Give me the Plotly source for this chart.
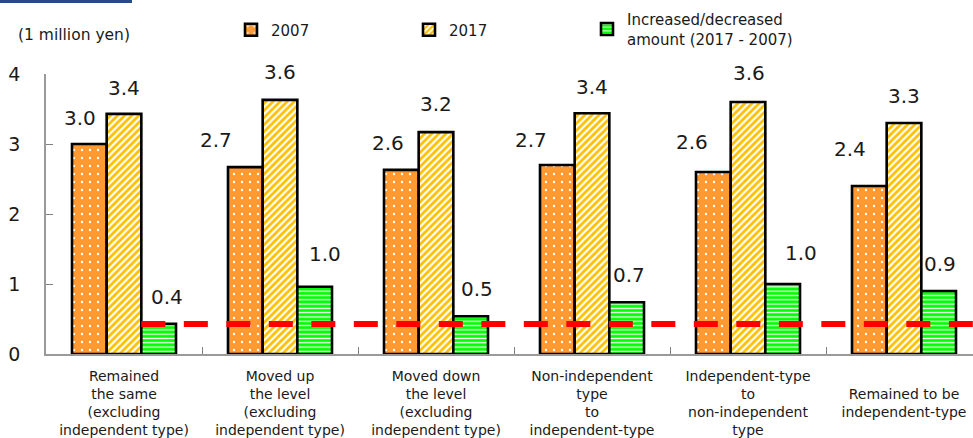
import plotly.graph_objects as go

# ---------------- data ----------------
CATEGORIES = [
    "Remained<br>the same<br>(excluding<br>independent type)",
    "Moved up<br>the level<br>(excluding<br>independent type)",
    "Moved down<br>the level<br>(excluding<br>independent type)",
    "Non-independent<br>type<br>to<br>independent-type",
    "Independent-type<br>to<br>non-independent<br>type",
    "<br>Remained to be<br>independent-type",
]
VALUES_2007 = [3.00, 2.67, 2.63, 2.70, 2.60, 2.40]
VALUES_2017 = [3.43, 3.63, 3.17, 3.44, 3.60, 3.30]
VALUES_DIFF = [0.43, 0.96, 0.54, 0.74, 1.00, 0.90]
SERIES_NAMES = ["2007", "2017", "Increased/decreased<br>amount (2017 - 2007)"]
Y_TICKS = [0, 1, 2, 3, 4]
UNIT_LABEL = "(1 million yen)"
TITLE_FRAGMENT = "category type"

# label nudges (px) relative to each bar top-centre
LABEL_DX = [
    [-9, -29, -13, -26, -21, -19],
    [0, 0, 0, 0, 1, 0],
    [8, 10, 6, 2, 18, 1],
]
LABEL_DY = [
    [26, 27, 27, 25, 30, 37],
    [26, 27.5, 28, 26, 29, 27],
    [27, 33, 27, 27, 31, 27],
]

FONT = "DejaVu Sans"
TXT = "#1a1a1a"

# plot geometry (px)
W, H = 973, 438
ML, MT, MB, MR = 46, 74, 84, 0
CAT_PX = 156.0
plot_w = W - ML - MR
plot_h = H - MT - MB
BARGAP = 1.0 / 3.0
bar_w = (1 - BARGAP) / 3.0

fig = go.Figure()

styles = [
    dict(bg="#FF9933", fg="#FFFFFF", shape=".", size=8, solidity=0.07),
    dict(bg="#FFFFFF", fg="#FFC000", shape="/", size=5, solidity=0.55),
    dict(bg="#00FF00", fg="#FFFFFF", shape="-", size=4.3, solidity=0.3),
]
series = [VALUES_2007, VALUES_2017, VALUES_DIFF]
legends = ["legend", "legend2", "legend3"]

for s, (vals, name, st, lg) in enumerate(zip(series, SERIES_NAMES, styles, legends)):
    fig.add_trace(go.Bar(
        x=CATEGORIES, y=vals, name=name, legend=lg,
        marker=dict(
            color=st["bg"],
            line=dict(color="#000000", width=2.6),
            pattern=dict(shape=st["shape"], fgcolor=st["fg"], bgcolor=st["bg"],
                         size=st["size"], solidity=st["solidity"], fillmode="replace"),
        ),
        hoverinfo="skip",
    ))

# value labels
annotations = []
for s, vals in enumerate(series):
    for i, v in enumerate(vals):
        annotations.append(dict(
            x=i + (s - 1) * bar_w, y=v, xref="x", yref="y",
            text=f"{v:.1f}", showarrow=False,
            xanchor="center", yanchor="middle",
            xshift=LABEL_DX[s][i], yshift=LABEL_DY[s][i],
            font=dict(family=FONT, size=20, color=TXT),
        ))

def px_to_paper_x(px):
    return (px - ML) / plot_w

def px_to_paper_y(py):
    return (H - MB - py) / plot_h

# unit label
annotations.append(dict(
    x=px_to_paper_x(16), y=px_to_paper_y(35), xref="paper", yref="paper",
    text=UNIT_LABEL, showarrow=False, xanchor="left", yanchor="middle",
    font=dict(family=FONT, size=15.5, color=TXT),
))
# cropped title (only its bottom edge is visible)
annotations.append(dict(
    x=px_to_paper_x(226), y=px_to_paper_y(3), xref="paper", yref="paper",
    text=f"<b>{TITLE_FRAGMENT}</b>", showarrow=False, xanchor="left", yanchor="bottom",
    font=dict(family=FONT, size=22, color="#000000"),
))

shapes = [
    # header bar, top-left
    dict(type="rect", xref="paper", yref="paper",
         x0=px_to_paper_x(0), x1=px_to_paper_x(132),
         y0=px_to_paper_y(3), y1=px_to_paper_y(-1),
         fillcolor="#264B84", line=dict(width=0), layer="above"),
    # red dashed reference line at the first group's increase
    dict(type="line", xref="x", yref="y",
         x0=-1 / 3 + 2 * bar_w, x1=6.0, y0=VALUES_DIFF[0], y1=VALUES_DIFF[0],
         line=dict(color="#FF0000", width=6, dash="24px,18.5px"), layer="above"),
]

legend_common = dict(
    orientation="h", xref="container", yref="container",
    xanchor="left", yanchor="middle", bgcolor="rgba(0,0,0,0)",
    font=dict(family=FONT, size=15, color=TXT), itemwidth=30,
)

fig.update_layout(
    width=W, height=H,
    margin=dict(l=ML, r=MR, t=MT, b=MB, pad=0, autoexpand=False),
    paper_bgcolor="#FFFFFF", plot_bgcolor="#FFFFFF",
    barmode="group", bargap=BARGAP, bargroupgap=0,
    showlegend=True,
    legend=dict(legend_common, x=(249 - 18) / W, y=1 - 30 / H),
    legend2=dict(legend_common, x=(427 - 18) / W, y=1 - 30 / H),
    legend3=dict(legend_common, x=(605 - 18) / W, y=1 - 29 / H),
    font=dict(family=FONT, color=TXT),
    xaxis=dict(
        range=[-0.5, -0.5 + plot_w / CAT_PX],
        showgrid=False, zeroline=False,
        showline=True, linecolor="#9a9a9a", linewidth=1.5,
        ticks="inside", tickson="boundaries", ticklen=7, tickcolor="#808080", tickwidth=1,
        tickfont=dict(family=FONT, size=14, color=TXT),
        ticklabelstandoff=8, tickangle=0,
        fixedrange=True,
    ),
    yaxis=dict(
        range=[0, 4], tickvals=Y_TICKS,
        showgrid=False, zeroline=False,
        showline=True, linecolor="#9a9a9a", linewidth=1.5,
        ticks="inside", ticklen=7, tickcolor="#808080", tickwidth=1,
        tickfont=dict(family=FONT, size=19, color=TXT),
        ticklabelstandoff=20,
        fixedrange=True,
    ),
    annotations=annotations,
    shapes=shapes,
)

fig.write_html(
    "out.html",
    config={"displayModeBar": False},
    post_script="document.body.style.margin='0';document.body.style.overflow='hidden';",
)
